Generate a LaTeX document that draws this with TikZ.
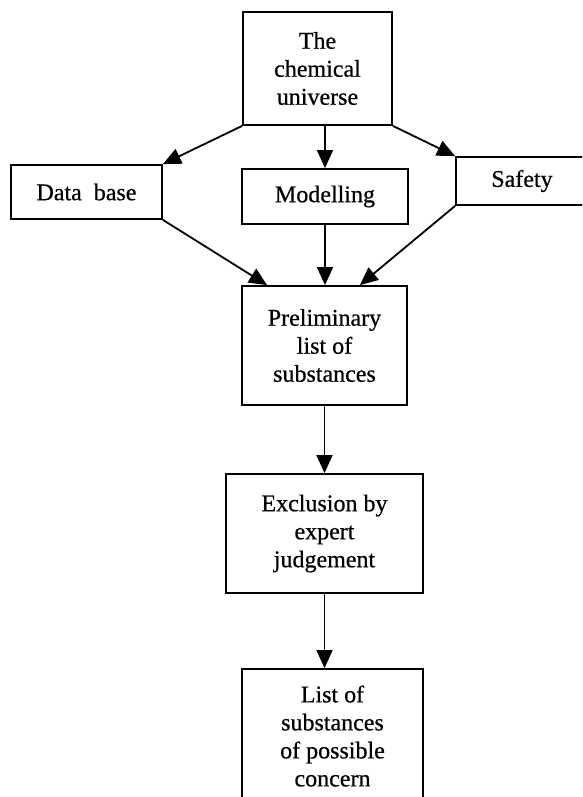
\documentclass[tikz,border=0pt]{standalone}
\usepackage{fontspec}
\setmainfont[FakeBold=0.6]{Liberation Serif}
\usetikzlibrary{arrows.meta}
\begin{document}
\begin{tikzpicture}[x=1pt,y=-1pt,
  box/.style={draw,line width=1.8pt,rectangle,inner sep=0pt,align=center,
    font=\fontsize{24}{28}\selectfont},
  flow/.style={line width=1.8pt,-{Triangle[length=18pt,width=16pt]}}]
  \useasboundingbox (0,0) rectangle (582,797);
  \clip (0,0) rectangle (582,797);
  % sources
  \node[box,minimum width=149pt,minimum height=113pt] (uni) at (317.5,68.5)
    {The\\chemical\\universe};
  \node[box,minimum width=151pt,minimum height=54pt] (db) at (86.5,192)
    {Data~ base};
  \node[box,minimum width=166pt,minimum height=55pt] (mod) at (325,196.5)
    {Modelling};
  \node[box,minimum width=132pt,minimum height=48pt] (saf) at (522,181)
    {Safety};
  % screening chain
  \node[box,minimum width=165pt,minimum height=119pt] (pre) at (324.5,345.5)
    {Preliminary\\list of\\substances};
  \node[box,minimum width=197pt,minimum height=119pt] (exc) at (324.5,533.5)
    {Exclusion by\\expert\\judgement};
  \node[box,minimum width=181pt,minimum height=134pt] (lst) at (332.5,736)
    {List of\\substances\\of possible\\concern};
  % connectors
  \draw[flow] (uni.south west) -- (db.north east);
  \draw[flow] (mod.north |- uni.south) -- (mod.north);
  \draw[flow] (uni.south east) -- (saf.north west);
  \draw[flow] (db.south east) -- ([xshift=26pt]pre.north west);
  \draw[flow] (mod.south) -- (mod.south |- pre.north);
  \draw[flow] (saf.south west) -- ([xshift=-48pt]pre.north east);
  \draw[flow] (pre.south) -- (exc.north);
  \draw[flow] (exc.south) -- (exc.south |- lst.north);
\end{tikzpicture}
\end{document}
